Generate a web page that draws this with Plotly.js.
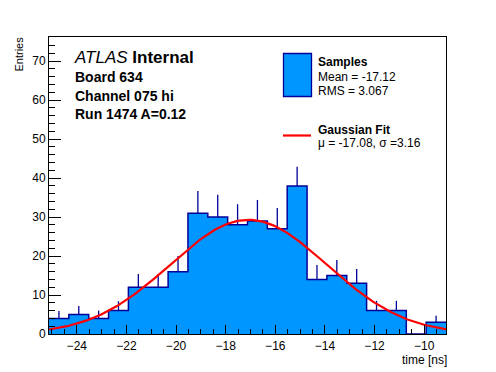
<!DOCTYPE html>
<html>
<head>
<meta charset="utf-8">
<script src="https://cdn.plot.ly/plotly-3.0.1.min.js"></script>
<style>html,body{margin:0;padding:0;background:#fff;}#chart{width:496px;height:372px;}</style>
</head>
<body>
<div id="chart"></div>
<script>
// ---- data ----
const binStart = -25.12;   // ns, lower edge of first bin
const binWidth = 0.8;      // ns
const counts = [4, 5, 4, 6, 12, 12, 16, 31, 30, 28, 29, 27, 38, 14, 15, 13, 6, 6, 0, 3];
const errors = [1.9, 2.2, 2.0, 2.4, 3.4, 3.4, 4.0, 5.7, 5.7, 5.3, 5.4, 5.3, 4.9, 3.7, 4.0, 3.7, 2.5, 2.5, 0, 1.7];
const fitMu = -17.08, fitSigma = 3.16, fitAmp = 29.3;
const textLines = ["Board 634", "Channel 075 hi", "Run 1474 A=0.12"];
const legendSamples = ["Samples", "Mean = -17.12", "RMS = 3.067"];
const legendFit = ["Gaussian Fit", "\u03bc = -17.08, \u03c3 =3.16"];

// ---- derived ----
const edges = counts.map((_, i) => binStart + i * binWidth);
edges.push(binStart + counts.length * binWidth);
const centers = counts.map((_, i) => binStart + (i + 0.5) * binWidth);
const stepY = counts.concat([counts[counts.length - 1]]);
const xMin = edges[0], xMax = edges[edges.length - 1];
const fitX = [], fitY = [];
for (let k = 0; k <= 200; k++) {
  const x = xMin + (xMax - xMin) * k / 200;
  fitX.push(x);
  fitY.push(fitAmp * Math.exp(-0.5 * Math.pow((x - fitMu) / fitSigma, 2)));
}

const FILL = '#0096ff', EDGE = '#000099';
const FONT = 'Liberation Sans, Arial, Helvetica, sans-serif';

// plot-area pixel frame -> paper coords
const L = 49, R = 446, T = 37, B = 334;
const px = x => (x - L) / (R - L);
const py = y => (B - y) / (B - T);

const traces = [
  { x: edges, y: stepY, type: 'scatter', mode: 'lines', line: { shape: 'hv', width: 0, color: FILL },
    fill: 'tozeroy', fillcolor: FILL, hoverinfo: 'skip' },
  { x: centers, y: counts, type: 'scatter', mode: 'markers', marker: { size: 0.1, opacity: 0 },
    error_y: { type: 'data', symmetric: false, array: errors, arrayminus: counts.map(() => 0),
               width: 0, thickness: 1.3, color: EDGE }, hoverinfo: 'skip' },
  { x: edges, y: stepY, type: 'scatter', mode: 'lines', line: { shape: 'hv', width: 1.5, color: EDGE },
    hoverinfo: 'skip' },
  { x: fitX, y: fitY, type: 'scatter', mode: 'lines', line: { width: 2.2, color: '#ff0000' }, hoverinfo: 'skip' }
];

const ann = [];
ann.push({ xref: 'paper', yref: 'paper', x: px(72), y: py(57.5), xanchor: 'left', yanchor: 'middle', showarrow: false,
  text: '<i>ATLAS</i> <b>Internal</b>', font: { family: FONT, size: 17, color: '#000' } });
textLines.forEach((t, i) => ann.push({ xref: 'paper', yref: 'paper', x: px(73), y: py(77 + 18.5 * i),
  xanchor: 'left', yanchor: 'middle', showarrow: false, text: '<b>' + t + '</b>',
  font: { family: FONT, size: 14, color: '#000' } }));
const sampY = [62, 77, 91];
legendSamples.forEach((t, i) => ann.push({ xref: 'paper', yref: 'paper', x: px(316), y: py(sampY[i]),
  xanchor: 'left', yanchor: 'middle', showarrow: false, text: i === 0 ? '<b>' + t + '</b>' : t,
  font: { family: FONT, size: 12, color: '#000' } }));
const fitTY = [129.5, 142.5];
legendFit.forEach((t, i) => ann.push({ xref: 'paper', yref: 'paper', x: px(316), y: py(fitTY[i]),
  xanchor: 'left', yanchor: 'middle', showarrow: false, text: i === 0 ? '<b>' + t + '</b>' : t,
  font: { family: FONT, size: 12, color: '#000' } }));
ann.push({ xref: 'paper', yref: 'paper', x: px(18), y: py(35), xanchor: 'center', yanchor: 'top', showarrow: false,
  textangle: -90, text: 'Entries', font: { family: FONT, size: 11, color: '#000' } });
ann.push({ xref: 'paper', yref: 'paper', x: px(448), y: py(360), xanchor: 'right', yanchor: 'middle', showarrow: false,
  borderpad: 0, text: 'time [ns]', font: { family: FONT, size: 12, color: '#000' } });

const shapes = [
  { type: 'rect', xref: 'paper', yref: 'paper', x0: px(283.5), x1: px(311.5), y0: py(53.5), y1: py(96.5),
    fillcolor: FILL, line: { color: EDGE, width: 1.3 } },
  { type: 'line', xref: 'paper', yref: 'paper', x0: px(283), x1: px(311), y0: py(135.5), y1: py(135.5),
    line: { color: '#ff0000', width: 2.2 } }
];

const layout = {
  width: 496, height: 372,
  margin: { l: L, r: 496 - R, t: T, b: 372 - B, pad: 0 },
  paper_bgcolor: '#fff', plot_bgcolor: '#fff',
  showlegend: false, hovermode: false,
  font: { family: FONT, size: 12, color: '#000' },
  xaxis: { range: [xMin, xMax], showgrid: false, zeroline: false, showline: true, mirror: true,
    linecolor: '#000', linewidth: 1, ticks: 'inside', ticklen: 9, tickcolor: '#000', tickwidth: 1,
    tick0: 0, dtick: 2, tickfont: { family: FONT, size: 12 }, ticklabelstandoff: 1,
    minor: { dtick: 0.5, ticks: 'inside', ticklen: 5, tickcolor: '#000', tickwidth: 1, showgrid: false } },
  yaxis: { range: [0, 76.2], showgrid: false, zeroline: false, showline: true, mirror: true,
    linecolor: '#000', linewidth: 1, ticks: 'inside', ticklen: 12, tickcolor: '#000', tickwidth: 1,
    tick0: 0, dtick: 10, tickfont: { family: FONT, size: 12 },
    minor: { dtick: 2, ticks: 'inside', ticklen: 6, tickcolor: '#000', tickwidth: 1, showgrid: false } },
  annotations: ann,
  shapes: shapes
};

Plotly.newPlot('chart', traces, layout, { staticPlot: true, displayModeBar: false });
</script>
</body>
</html>
